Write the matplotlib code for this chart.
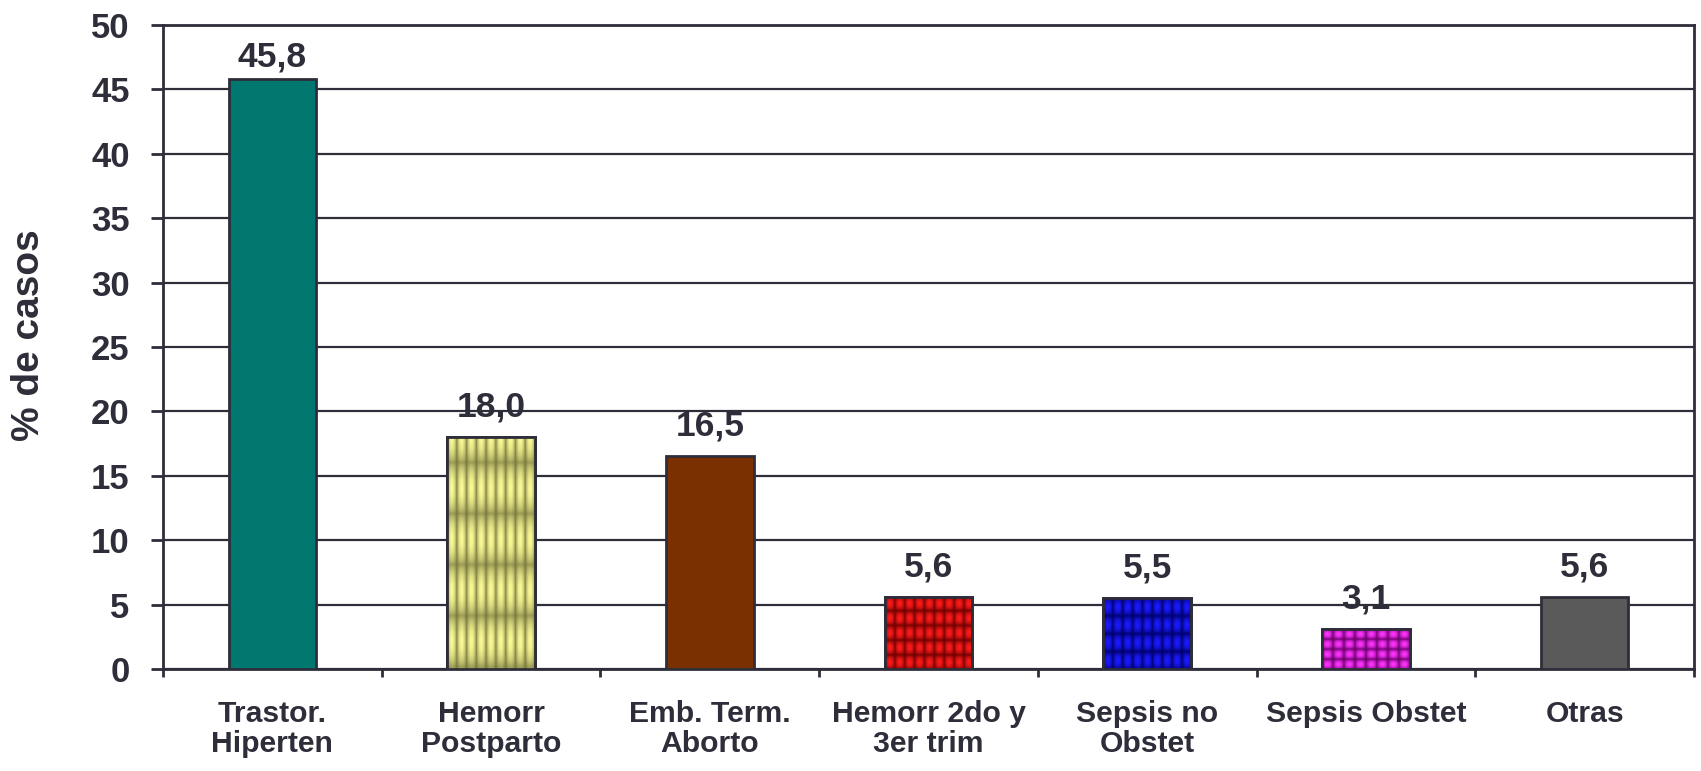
import numpy as np
import matplotlib
matplotlib.use("Agg")
import matplotlib.pyplot as plt
from matplotlib.ticker import MultipleLocator, FixedLocator

categories = ["Trastor.\nHiperten", "Hemorr\nPostparto", "Emb. Term.\nAborto",
              "Hemorr 2do y\n3er trim", "Sepsis no\nObstet", "Sepsis Obstet", "Otras"]
values = [45.8, 18.0, 16.5, 5.6, 5.5, 3.1, 5.6]
colors = ["#00776f", "#e6e67a", "#7a3000", "#e00000", "#0000e6", "#e600e6", "#5a5a5a"]
# textures for the patterned bars: (kind, dark colour, light colour, cell w px, cell h px)
textures = {
    1: ("stripes", "#707038", "#fafa96", 9.7, 51),
    3: ("grid", "#6e0000", "#ff1a1a", 9.8, 14.5),
    4: ("grid", "#00006a", "#1a1aff", 9.8, 17.8),
    5: ("grid", "#6a006a", "#ff33ff", 10.9, 10.0),
}

ink = "#2e2e3a"
plt.rcParams["font.family"] = ["Liberation Sans", "DejaVu Sans"]
plt.rcParams["font.weight"] = "bold"

fig = plt.figure(figsize=(17.01, 7.71), dpi=100)
ax = fig.add_axes([163 / 1701, 1 - 669 / 771, 1531 / 1701, 644 / 771])

x = np.arange(len(categories))
bars = ax.bar(x, values, 0.4, color=colors, edgecolor=ink, linewidth=2, zorder=3)

ax.set_xlim(-0.5, len(categories) - 0.5)
ax.set_ylim(0, 50)
ax.yaxis.set_major_locator(MultipleLocator(5))
ax.grid(axis="y", color=ink, linewidth=1.6, zorder=0)
ax.set_axisbelow(True)
for s in ax.spines.values():
    s.set_color(ink)
    s.set_linewidth(2)


def texture(kind, dark, light, cw, ch, wpx, hpx):
    dark = np.array(matplotlib.colors.to_rgb(dark))
    light = np.array(matplotlib.colors.to_rgb(light))
    nx, ny = int(wpx * 4), int(hpx * 4)
    u = (np.arange(nx) + 0.5) / 4 / cw % 1
    v = (np.arange(ny) + 0.5) / 4 / ch % 1
    U, V = np.meshgrid(u, v)
    if kind == "stripes":
        s = np.sin(np.pi * U) ** 0.6 * (0.3 + 0.7 * np.abs(np.cos(np.pi * V)) ** 0.7)
    else:
        s = (np.sin(np.pi * U) * np.sin(np.pi * V)) ** 0.7
    return dark + (light - dark) * s[..., None]


fig.canvas.draw()
for i, (kind, dk, lt, cw, ch) in textures.items():
    b = bars[i]
    x0, w, h = b.get_x(), b.get_width(), b.get_height()
    (px0, py0), (px1, py1) = ax.transData.transform([(x0, 0), (x0 + w, h)])
    img = texture(kind, dk, lt, cw, ch, px1 - px0, py1 - py0)
    im = ax.imshow(img, extent=(x0, x0 + w, 0, h), aspect="auto", zorder=3.5,
                   interpolation="bilinear")
    im.set_clip_path(b)
    ax.bar(x0 + w / 2, h, w, fill=False, edgecolor=ink, linewidth=2, zorder=4)

ax.set_aspect("auto")
ax.set_xlim(-0.5, len(categories) - 0.5)
ax.set_ylim(0, 50)

# labels sit above the bar, but are kept inside the plot area (as in the original)
for xi, v in zip(x, values):
    ax.text(xi, min(v + 1.6, 46.75), f"{v:.1f}".replace(".", ","), ha="center",
            va="baseline", fontsize=25.5, fontweight="bold", color=ink, zorder=5)

ax.set_xticks(x)
ax.set_xticklabels(categories, fontsize=21.7, fontweight="bold", color=ink, linespacing=1.12)
ax.xaxis.set_minor_locator(FixedLocator(np.arange(len(categories) + 1) - 0.5))
ax.tick_params(axis="x", which="major", length=0, pad=22)
ax.tick_params(axis="x", which="minor", length=6, width=2, color=ink, direction="out")
ax.tick_params(axis="y", length=9, width=2, color=ink, direction="out", pad=15,
               labelsize=25, labelcolor=ink)
ax.set_ylabel("% de casos", fontsize=28, fontweight="bold", color=ink)
ax.yaxis.set_label_coords(-0.0758, 0.519)

fig.savefig("out.png", dpi=100)
